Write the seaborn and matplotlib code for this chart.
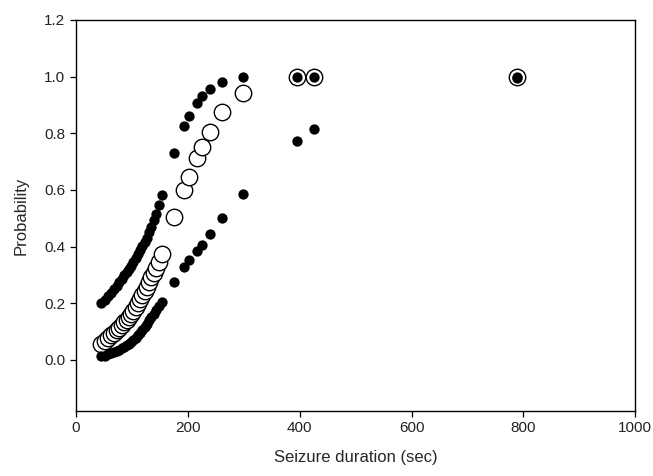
import matplotlib
matplotlib.use("Agg")
import matplotlib.pyplot as plt
import seaborn as sns
import pandas as pd

# seizure duration (sec) for each case
duration = [46, 52, 58, 63, 68, 73, 78, 83, 87, 91, 95, 99, 103, 107, 111,
            115, 119, 123, 127, 131, 135, 139, 143, 148, 154, 176, 194, 202,
            216, 225, 240, 262, 299, 395, 425, 788]

# estimated probability
prob = [0.055, 0.066, 0.077, 0.087, 0.096, 0.105, 0.114, 0.124, 0.133, 0.141,
        0.150, 0.161, 0.172, 0.185, 0.199, 0.214, 0.228, 0.243, 0.258, 0.275,
        0.291, 0.307, 0.324, 0.345, 0.375, 0.506, 0.598, 0.644, 0.711, 0.750,
        0.806, 0.876, 0.941, 1.0, 1.0, 1.0]

# upper and lower confidence limits
upper = [0.200, 0.212, 0.225, 0.237, 0.249, 0.261, 0.274, 0.287, 0.298, 0.309,
         0.321, 0.333, 0.346, 0.360, 0.374, 0.388, 0.402, 0.416, 0.430, 0.450,
         0.468, 0.492, 0.515, 0.548, 0.582, 0.732, 0.824, 0.861, 0.908, 0.933,
         0.957, 0.980, 0.998, 1.0, 1.0, 1.0]
lower = [0.012, 0.015, 0.019, 0.023, 0.027, 0.031, 0.036, 0.041, 0.046, 0.051,
         0.057, 0.063, 0.070, 0.078, 0.086, 0.095, 0.105, 0.116, 0.127, 0.139,
         0.150, 0.162, 0.175, 0.189, 0.203, 0.276, 0.327, 0.353, 0.386, 0.406,
         0.443, 0.500, 0.586, 0.771, 0.814, 0.995]

df = pd.DataFrame({'duration': duration, 'prob': prob,
                   'upper': upper, 'lower': lower})

sns.set_style("ticks")
plt.rcParams['font.family'] = ['Liberation Sans', 'DejaVu Sans']

fig = plt.figure(figsize=(6.53, 4.76), dpi=100)
ax = fig.add_axes([0.116, 0.137, 0.857, 0.821])

# open circles: probability
sns.scatterplot(data=df, x='duration', y='prob', ax=ax, s=140,
                facecolor='white', edgecolor='black', linewidth=1.0,
                zorder=2)
# filled dots: confidence limits
sns.scatterplot(data=df, x='duration', y='upper', ax=ax, s=55,
                color='black', edgecolor='black', linewidth=0, zorder=3)
sns.scatterplot(data=df, x='duration', y='lower', ax=ax, s=55,
                color='black', edgecolor='black', linewidth=0, zorder=3)

ax.set_xlim(0, 1000)
ax.set_ylim(-0.18, 1.2)
ax.set_xticks([0, 200, 400, 600, 800, 1000])
ax.set_yticks([0.0, 0.2, 0.4, 0.6, 0.8, 1.0, 1.2])
ax.set_yticklabels(['0.0', '0.2', '0.4', '0.6', '0.8', '1.0', '1.2'])
ax.set_xlabel('Seizure duration (sec)', fontsize=12, labelpad=11)
ax.set_ylabel('Probability', fontsize=12, labelpad=11)
ax.tick_params(direction='out', length=4, width=0.9, labelsize=11,
               color='black', labelcolor='#222222')
for sp in ax.spines.values():
    sp.set_visible(True)
    sp.set_color('black')
    sp.set_linewidth(1.0)

fig.savefig('out.png', dpi=100)
